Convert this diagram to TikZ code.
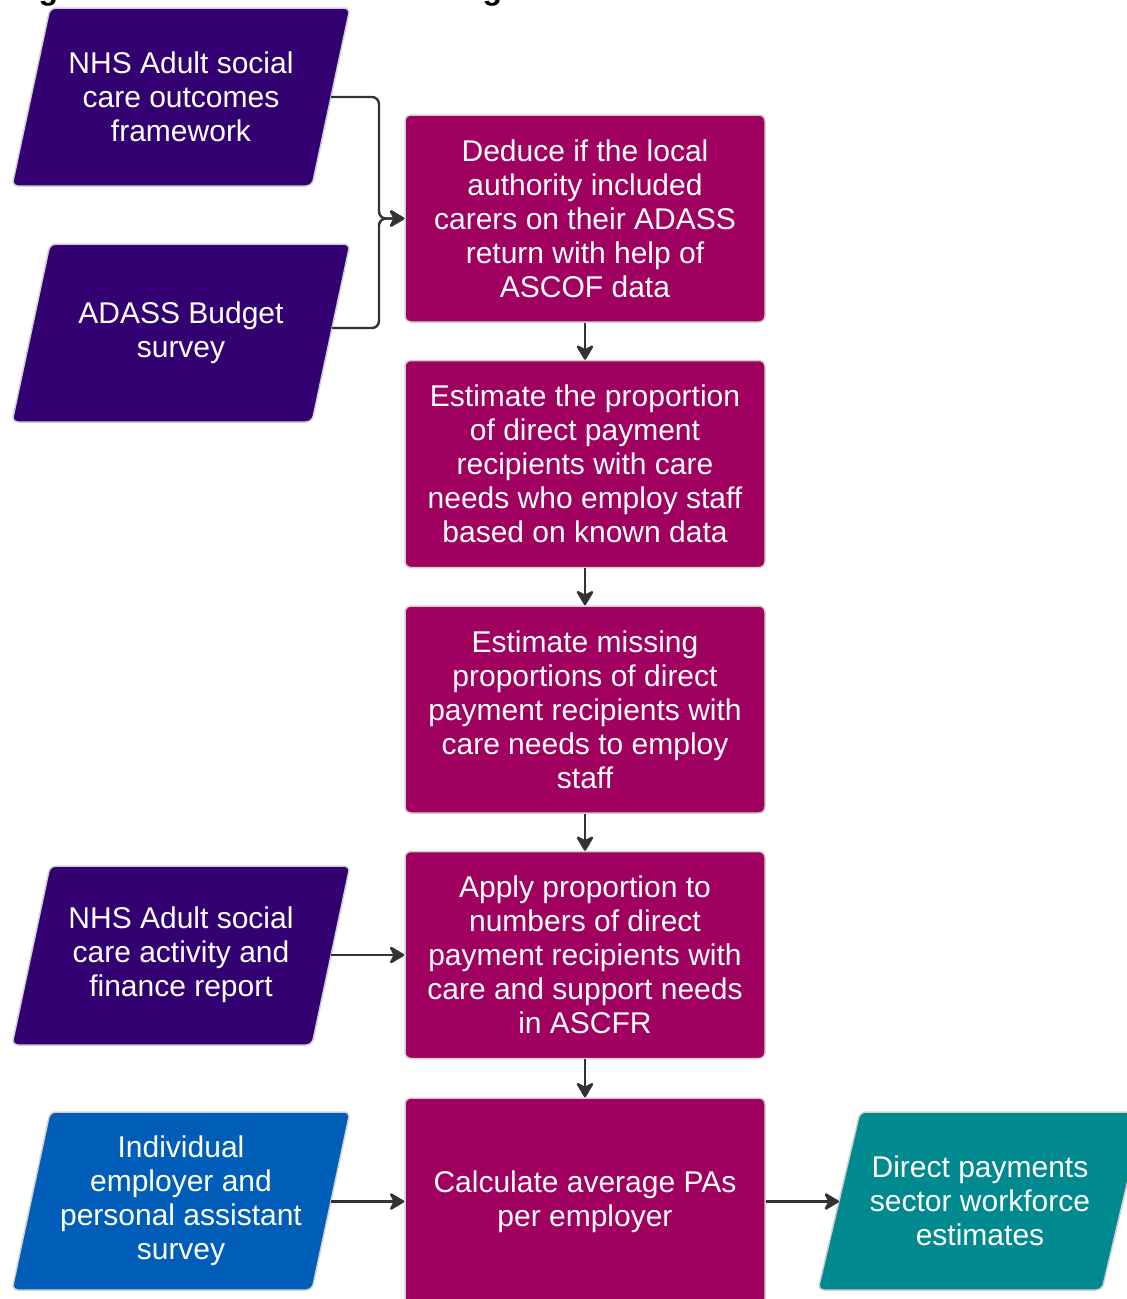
\documentclass[tikz,border=0pt]{standalone}
\usepackage{fontspec}
\setmainfont{Liberation Sans}
\usetikzlibrary{arrows.meta}
\definecolor{npurple}{HTML}{330072}
\definecolor{nblue}{HTML}{005EB8}
\definecolor{nteal}{HTML}{00898F}
\definecolor{nmag}{HTML}{A00060}
\definecolor{conncol}{HTML}{333333}
\definecolor{edgecol}{HTML}{D0D0D0}
\begin{document}
\begin{tikzpicture}[x=1pt,y=-1pt,
  proc/.style={rectangle, rounded corners=6pt, fill=nmag, draw=edgecol, line width=1.5pt,
    minimum width=360pt, minimum height=207pt, text=white, align=center,
    font=\fontsize{30}{34}\selectfont, inner sep=0pt},
  paraedge/.style={rounded corners=6pt, draw=edgecol, line width=1.5pt},
  ptext/.style={text=white, align=center, font=\fontsize{30}{34}\selectfont, inner sep=0pt},
  conn/.style={draw=conncol, line width=2.4pt, -{Stealth[length=17pt,width=20pt,inset=5pt,round]}}
]
\useasboundingbox (0,0) rectangle (1127,1299);
\clip (0,0) rectangle (1127,1299);

% cut-off title
\node[anchor=base west, inner sep=0pt, font=\bfseries\fontsize{32}{36}\selectfont] (title) at (10,-1) {Figure 3: Process for estimating PA workforce};

% data sources (parallelograms)
\path[paraedge, fill=npurple] (12,186) -- (50,8) -- (350,8) -- (312,186) -- cycle;
\node[ptext] (ascof) at (181,97) {NHS Adult social\\care outcomes\\framework};

\path[paraedge, fill=npurple] (12,422) -- (50,244) -- (350,244) -- (312,422) -- cycle;
\node[ptext] (adass) at (181,333) {ADASS Budget\\survey};

\path[paraedge, fill=npurple] (12,1045) -- (50,866) -- (350,866) -- (312,1045) -- cycle;
\node[ptext] (ascfr) at (181,955) {NHS Adult social\\care activity and\\finance report};

\path[paraedge, fill=nblue] (12,1290) -- (50,1112) -- (350,1112) -- (312,1290) -- cycle;
\node[ptext] (survey) at (181,1201) {Individual\\employer and\\personal assistant\\survey};

\path[paraedge, fill=nteal] (818,1290) -- (860,1112) -- (1144,1112) -- (1102,1290) -- cycle;
\node[ptext] (result) at (980,1201) {Direct payments\\sector workforce\\estimates};

% process boxes
\node[proc] (b1) at (585,218.5) {Deduce if the local\\authority included\\carers on their ADASS\\return with help of\\ASCOF data};
\node[proc] (b2) at (585,464) {Estimate the proportion\\of direct payment\\recipients with care\\needs who employ staff\\based on known data};
\node[proc] (b3) at (585,709.5) {Estimate missing\\proportions of direct\\payment recipients with\\care needs to employ\\staff};
\node[proc] (b4) at (585,955) {Apply proportion to\\numbers of direct\\payment recipients with\\care and support needs\\in ASCFR};
\node[proc] (b5) at (585,1201.5) {Calculate average PAs\\per employer};

% connector end points on the slanted edges
\coordinate (ascofR) at (331,97);
\coordinate (adassR) at (332,328);
\coordinate (join) at (379,218.5);
\coordinate (ascfrR) at (331,955);
\coordinate (surveyR) at (331,1201.5);
\coordinate (resultL) at (839,1201.5);

\draw[conn, rounded corners=7pt] (ascofR) -| (join) -- (b1.west);
\draw[conn, rounded corners=7pt] (adassR) -| (join) -- (b1.west);
\draw[conn] (b1) -- (b2);
\draw[conn] (b2) -- (b3);
\draw[conn] (b3) -- (b4);
\draw[conn] (b4) -- (b5);
\draw[conn] (ascfrR) -- (ascfrR -| b4.west);
\draw[conn] (surveyR) -- (surveyR -| b5.west);
\draw[conn] (b5.east |- resultL) -- (resultL);
\end{tikzpicture}
\end{document}
